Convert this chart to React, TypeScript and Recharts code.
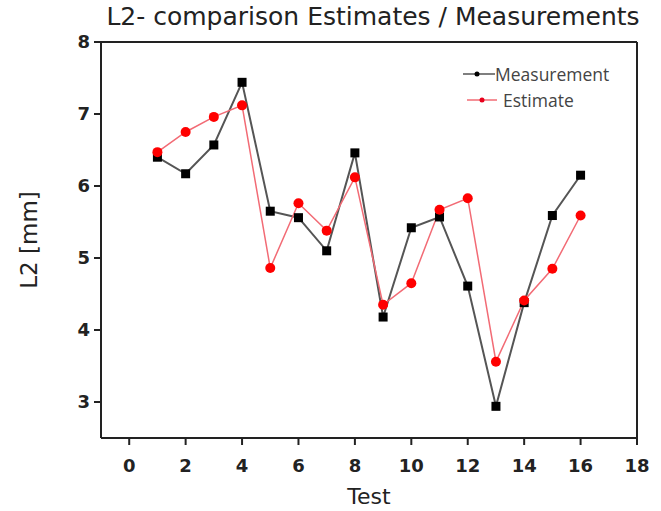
import React from 'react';
import {
  LineChart,
  Line,
  XAxis,
  YAxis,
  Label
} from 'recharts';

// test number on the x axis
const tests = [1, 2, 3, 4, 5, 6, 7, 8, 9, 10, 11, 12, 13, 14, 15, 16];

// L2 values in mm
const measurement = [6.4, 6.17, 6.57, 7.44, 5.65, 5.56, 5.1, 6.46, 4.18, 5.42, 5.57, 4.61, 2.94, 4.38, 5.59, 6.15];
const estimate = [6.47, 6.75, 6.96, 7.12, 4.86, 5.76, 5.38, 6.12, 4.35, 4.65, 5.67, 5.83, 3.56, 4.41, 4.85, 5.59];

const xMajorTicks = [0, 2, 4, 6, 8, 10, 12, 14, 16, 18];
const xMinorTicks = [-1, 0, 1, 2, 3, 4, 5, 6, 7, 8, 9, 10, 11, 12, 13, 14, 15, 16, 17, 18];
const yMajorTicks = [3, 4, 5, 6, 7, 8];
const yMinorTicks = [2.5, 3, 3.5, 4, 4.5, 5, 5.5, 6, 6.5, 7, 7.5, 8];

const data = tests.map((t, i) => ({
  test: t,
  measurement: measurement[i],
  estimate: estimate[i]
}));

const tickFont = {
  fontSize: 18,
  fontWeight: 'bold',
  fill: '#222',
  fontFamily: 'DejaVu Sans'
};

const SquareDot = (props: any) => {
  const { cx, cy, index } = props;
  if (cx == null || cy == null) return null;
  return <rect key={`sq-${index}`} x={cx - 4.5} y={cy - 4.5} width={9} height={9} fill="#000" />;
};

const LegendBox = () => (
  <div style={{ fontFamily: 'Open Sans', fontSize: 17.5, color: '#444', lineHeight: '26px' }}>
    <div style={{ display: 'flex', alignItems: 'center' }}>
      <svg width={32} height={10}>
        <line x1={0} y1={5} x2={32} y2={5} stroke="#555" strokeWidth={1.5} />
        <circle cx={14} cy={5} r={2.5} fill="#000" />
      </svg>
      <span>Measurement</span>
    </div>
    <div style={{ display: 'flex', alignItems: 'center' }}>
      <svg width={40} height={10}>
        <line x1={4} y1={5} x2={34} y2={5} stroke="#f26b75" strokeWidth={1.5} />
        <circle cx={19} cy={5} r={2.5} fill="#e8001c" />
      </svg>
      <span>Estimate</span>
    </div>
  </div>
);

export default function App() {
  return (
    <div style={{ position: 'absolute', left: 0, top: 0, width: 661, height: 511, background: '#fff' }}>
      <LineChart
        width={661}
        height={511}
        data={data}
        margin={{ top: 42, right: 24, bottom: 0, left: 0 }}
      >
        {/* thin minor-tick axes first so they sit on the plot edge */}
        <XAxis
          xAxisId="minor"
          type="number"
          dataKey="test"
          domain={[-1, 18]}
          ticks={xMinorTicks}
          height={1}
          axisLine={false}
          tickSize={4}
          tick={false}
          stroke="#222"
        />
        <XAxis
          type="number"
          dataKey="test"
          domain={[-1, 18]}
          ticks={xMajorTicks}
          interval={0}
          height={72}
          tickSize={7}
          tickMargin={14}
          tick={tickFont}
          stroke="#222"
          strokeWidth={2}
        >
          <Label value="Test" position="insideBottom" offset={6} style={{ fontFamily: 'DejaVu Sans', fontSize: 22, fill: '#222' }} />
        </XAxis>
        <XAxis
          xAxisId="top"
          orientation="top"
          type="number"
          dataKey="test"
          domain={[-1, 18]}
          ticks={xMinorTicks}
          height={1}
          mirror
          tickSize={4}
          tick={false}
          stroke="#222"
          strokeWidth={2}
        />
        <YAxis
          yAxisId="minor"
          type="number"
          domain={[2.5, 8]}
          ticks={yMinorTicks}
          width={1}
          axisLine={false}
          tickSize={4}
          tick={false}
          stroke="#222"
        />
        <YAxis
          type="number"
          domain={[2.5, 8]}
          ticks={yMajorTicks}
          interval={0}
          width={100}
          tickSize={7}
          tickMargin={4}
          tick={tickFont}
          stroke="#222"
          strokeWidth={2}
        >
          <Label
            value="L2 [mm]"
            angle={-90}
            position="insideLeft"
            offset={28}
            style={{ fontFamily: 'DejaVu Sans', fontSize: 23, fill: '#222', textAnchor: 'middle' }}
          />
        </YAxis>
        <YAxis
          yAxisId="right"
          orientation="right"
          type="number"
          domain={[2.5, 8]}
          ticks={yMinorTicks}
          width={1}
          mirror
          tickSize={4}
          tick={false}
          stroke="#222"
          strokeWidth={2}
        />
        <Line
          type="linear"
          dataKey="measurement"
          name="Measurement"
          stroke="#555"
          strokeWidth={2}
          dot={SquareDot}
          activeDot={false}
          isAnimationActive={false}
        />
        <Line
          type="linear"
          dataKey="estimate"
          name="Estimate"
          stroke="#f26b75"
          strokeWidth={1.5}
          dot={{ r: 5, fill: '#ff0000', stroke: '#ff0000', strokeWidth: 0 }}
          activeDot={false}
          isAnimationActive={false}
        />
      </LineChart>
      <div
        style={{
          position: 'absolute',
          left: 90,
          top: 2,
          width: 566,
          textAlign: 'center',
          fontFamily: 'DejaVu Sans',
          fontSize: 25,
          color: '#222',
          whiteSpace: 'nowrap'
        }}
      >
        L2- comparison Estimates / Measurements
      </div>
      <div style={{ position: 'absolute', left: 463, top: 61 }}>
        <LegendBox />
      </div>
    </div>
  );
}
